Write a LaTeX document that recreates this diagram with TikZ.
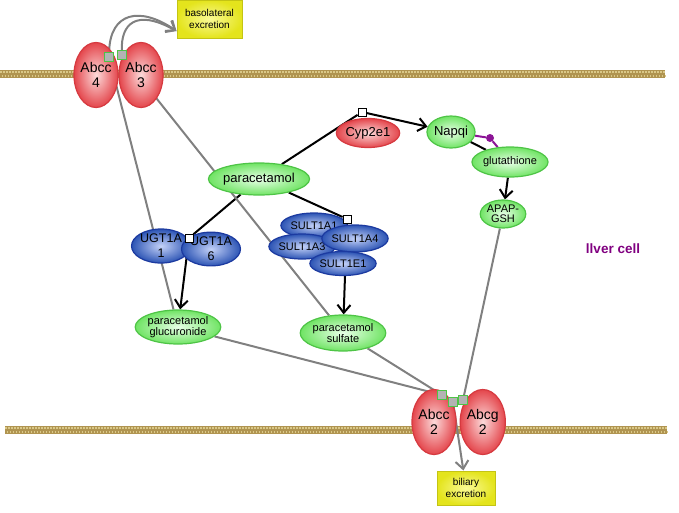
\documentclass[tikz,border=0pt]{standalone}
\usepackage{fontspec}
\setmainfont{Liberation Sans}
\usepackage{xcolor}
\usetikzlibrary{positioning}
\usetikzlibrary{arrows.meta}
\usetikzlibrary{shapes.geometric}
\usetikzlibrary{backgrounds}
\definecolor{memb}{RGB}{176,148,80}
\definecolor{membl}{RGB}{218,200,136}
\definecolor{redo}{RGB}{228,70,76}
\definecolor{redi}{RGB}{252,218,218}
\definecolor{redd}{RGB}{214,58,64}
\definecolor{grno}{RGB}{112,228,100}
\definecolor{grni}{RGB}{232,255,232}
\definecolor{grnd}{RGB}{78,196,70}
\definecolor{bluo}{RGB}{44,84,180}
\definecolor{blui}{RGB}{196,210,248}
\definecolor{blud}{RGB}{28,58,160}
\definecolor{yelo}{RGB}{228,228,28}
\definecolor{yeli}{RGB}{250,250,150}
\definecolor{yeld}{RGB}{196,196,20}
\definecolor{lnk}{RGB}{128,128,128}
\definecolor{bnd}{RGB}{140,20,150}
\definecolor{cell}{RGB}{128,0,128}
\tikzset{
      prot/.style={ellipse, shade, draw=redd, line width=1.2pt,
      inner color=redi, outer color=redo, inner sep=0pt, align=center,
      minimum width=42pt, minimum height=65pt,
      font=\fontsize{14}{15}\selectfont},
      met/.style={ellipse, shade, draw=grnd, line width=1.2pt,
      inner color=grni, outer color=grno, inner sep=0pt, align=center,
      font=\fontsize{11}{11.5}\selectfont},
      enz/.style={ellipse, shade, draw=blud, line width=1.2pt,
      inner color=blui, outer color=bluo, inner sep=0pt, align=center,
      font=\fontsize{12.5}{15}\selectfont},
      sult/.style={minimum width=57pt, minimum height=25pt,
      font=\fontsize{11}{11}\selectfont},
      excr/.style={rectangle, shade, draw=yeld, line width=1pt,
      inner color=yeli, outer color=yelo, inner sep=0pt, align=center,
      font=\fontsize{10}{12}\selectfont},
      anc/.style={rectangle, draw=black, fill=white, line width=0.8pt,
      minimum size=8pt, inner sep=0pt},
      tra/.style={rectangle, draw=grnd, fill=lnk!60, line width=1pt,
      minimum size=9pt, inner sep=0pt},
      bdot/.style={circle, fill=bnd, minimum size=8pt, inner sep=0pt},
      conv/.style={draw=black, line width=2pt},
      arr/.style={-{Straight Barb[length=8pt,width=13pt]}},
      link/.style={draw=lnk, line width=2pt},
      bind/.style={draw=bnd, line width=2pt},
      membtex/.style={membl, line width=1.5pt, dash pattern=on 1.5pt off 1.5pt}}

\begin{document}
\begin{tikzpicture}[x=1pt,y=-1pt]
\useasboundingbox (0,0) rectangle (679,512);
\begin{scope}[on background layer]
\fill[memb] (0,70) rectangle (665,78);
\draw[membtex] (0,72) -- (665,72);
\draw[membtex, dash phase=1.5pt] (0,76) -- (665,76);
\fill[memb] (5,426) rectangle (667,434);
\draw[membtex] (5,428) -- (667,428);
\draw[membtex, dash phase=1.5pt] (5,432) -- (667,432);
\end{scope}

\node[prot, minimum width=40pt] (abcc4) at (96,75) {Abcc\\4};
\node[prot] (abcc3) at (141,75) {Abcc\\3};
\node[excr, minimum width=65pt, minimum height=38pt] (baso) at (209.5,19) {basolateral\\excretion};

\node[prot, minimum width=55pt, minimum height=29pt, font=\fontsize{13}{14}\selectfont] (cyp) at (368,133) {Cyp2e1};
\node[met, minimum width=45pt, minimum height=32pt, font=\fontsize{13}{14}\selectfont] (napqi) at (451,132) {Napqi};
\node[met, minimum width=60pt, minimum height=30pt] (glut) at (510,162) {glutathione};
\node[met, minimum width=40pt, minimum height=28pt, font=\fontsize{11}{10.5}\selectfont] (apap) at (503,214) {APAP-\\GSH};
\node[met, minimum width=88pt, minimum height=32pt, font=\fontsize{13}{14}\selectfont] (para) at (259,179) {paracetamol};

\node[enz, minimum width=51pt, minimum height=34pt] (ugt1) at (161,246) {UGT1A\\1};
\node[enz, minimum width=53pt, minimum height=32pt] (ugt6) at (211,249) {UGT1A\\6};
\node[enz, sult] (s1a1) at (314,225.5) {SULT1A1};
\node[enz, sult, minimum width=59pt] (s1a3) at (302,246.5) {SULT1A3};
\node[enz, sult, minimum height=27pt] (s1a4) at (355,238.5) {SULT1A4};
\node[enz, sult, minimum width=62pt, minimum height=24pt] (s1e1) at (343,263.5) {SULT1E1};

\node[met, minimum width=80pt, minimum height=34pt] (gluc) at (178,327) {paracetamol\\glucuronide};
\node[met, minimum width=85pt, minimum height=36pt] (sulf) at (343,333) {paracetamol\\sulfate};

\node[prot, minimum width=41pt] (abcc2) at (434,422) {Abcc\\2};
\node[prot, right=3pt of abcc2] (abcg2) {Abcg\\2};
\node[excr, minimum width=58pt, minimum height=34pt] (bili) at (466,488) {biliary\\excretion};

\node[text=cell, font=\fontsize{13.5}{15}\selectfont\bfseries] (liver) at (613,249) {llver cell};

\node[anc] (ca) at (362,112) {};
\node[anc] (ua) at (189,238) {};
\node[anc] (sa) at (347,219) {};
\node[bdot] (pd) at (490,138) {};
\node[tra] (t4) at (109,57) {};
\node[tra] (t3) at (122,55) {};
\node[tra] (tc2) at (442,395) {};
\node[tra] (tm) at (453,402) {};
\node[tra] (tg2) at (463,400) {};

\begin{scope}[on background layer]
\draw[conv] (para) -- (ca);
\draw[conv, arr] (ca) -- (napqi);
\draw[conv] (para) -- (ua);
\draw[conv, arr] (ua) -- (gluc);
\draw[conv] (para) -- (sa);
\draw[conv, arr] (sa) -- (sulf);
\draw[conv] (napqi) -- (glut);
\draw[conv, arr] (glut) -- (apap);
\draw[bind] (napqi) -- (pd) -- (glut);
\draw[link] (gluc) -- (t4);
\draw[link] (sulf) -- (t3);
\draw[link, arr] (t4) .. controls (110,12) and (140,6) .. (baso.200);
\draw[link, arr] (t3) .. controls (121,25) and (135,8) .. (baso.200);
\draw[link] (gluc) -- (tc2);
\draw[link] (sulf) -- (tc2);
\draw[link] (apap) -- (tg2);
\draw[link, arr] (tm) -- (bili);
\end{scope}
\end{tikzpicture}
\end{document}
